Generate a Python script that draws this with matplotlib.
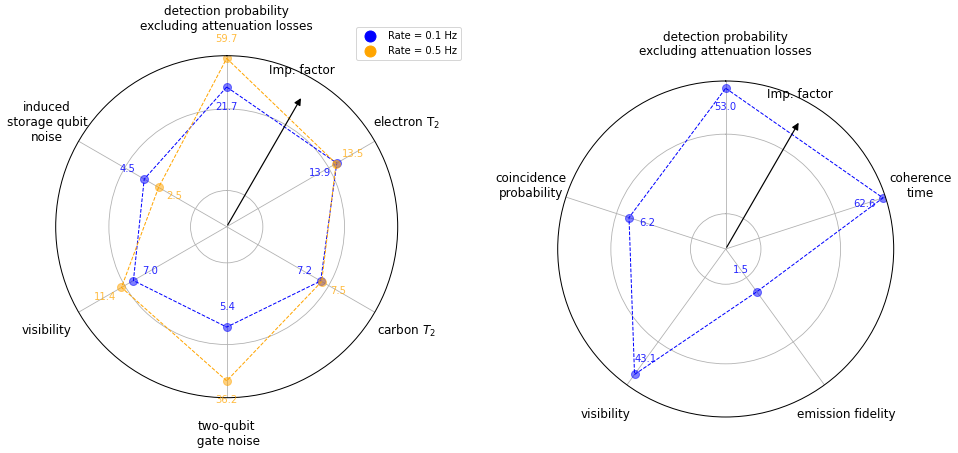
import numpy as np
import matplotlib
matplotlib.use("Agg")
import matplotlib.pyplot as plt
from matplotlib.lines import Line2D

# left chart: two rates
left_labels = ["detection probability\nexcluding attenuation losses", "electron T$_2$",
               "carbon $T_2$", "two-qubit\n gate noise", "visibility",
               "induced\nstorage qubit\nnoise"]
rate_01 = [21.7, 13.9, 7.2, 5.4, 7.0, 4.5]
rate_05 = [59.7, 13.5, 7.5, 36.2, 11.4, 2.5]
# radial factor for where each value label sits (>1 outside, <1 inside)
lab_01 = [0.5, 0.5, 0.5, 0.5, 0.5, 2.0]
lab_05 = [2.0, 2.0, 2.0, 2.0, 2.0, 0.67]

# right chart: single rate
right_labels = ["detection probability\nexcluding attenuation losses", "coherence\ntime",
                "emission fidelity", "visibility", "coincidence\nprobability"]
right_vals = [53.0, 62.6, 1.5, 43.1, 6.2]
lab_right = [0.5, 0.5, 0.5, 0.5, 0.5]

legend_names = ["Rate = 0.1 Hz", "Rate = 0.5 Hz"]

W, H = 958, 453
fig = plt.figure(figsize=(W / 72, H / 72), dpi=72)


def setup_radar(rect, labels, rmax):
    ax = fig.add_axes(rect, projection="polar")
    n = len(labels)
    ang = np.linspace(0, 2 * np.pi, n, endpoint=False)
    ax.set_theta_offset(np.pi / 2)
    ax.set_theta_direction(-1)
    ax.set_rscale("symlog")
    ax.set_rlim(0, rmax)
    ax.set_yticks([1, 10])
    ax.set_yticklabels([])
    ax.set_xticks(ang)
    ax.set_xticklabels(labels, fontsize=12)
    ax.tick_params(axis="x", pad=26)
    ax.grid(True, color="#b0b0b0", lw=0.8)
    ax.spines["polar"].set_linewidth(1.0)
    # importance arrow
    a = np.deg2rad(30)
    tip = (0.5 + 0.44 * np.sin(a), 0.5 + 0.44 * np.cos(a))
    ax.annotate("", xy=tip, xytext=(0.5, 0.5), xycoords="axes fraction",
                arrowprops=dict(arrowstyle="-|>", color="black", lw=1.2, mutation_scale=14))
    ax.annotate("Imp. factor", xy=tip, xycoords="axes fraction", xytext=(0, 26),
                textcoords="offset points", ha="center", va="center", fontsize=12)
    return ax, ang


def draw_series(ax, ang, vals, factors, color, txt_alpha):
    a = np.append(ang, ang[0])
    v = np.append(vals, vals[0])
    ax.plot(a, v, "--", color=color, lw=1.0)
    ax.plot(ang, vals, "o", color=color, alpha=0.5, markersize=8)
    for t, val, f in zip(ang, vals, factors):
        ax.text(t, val * f, f"{val:.1f}", color=color, alpha=txt_alpha,
                ha="center", va="center", fontsize=10)


axL, angL = setup_radar([55.7 / W, 55.3 / H, 342 / W, 342 / H], left_labels,
                        1.1 * max(max(rate_01), max(rate_05)))
draw_series(axL, angL, rate_01, lab_01, "blue", 0.85)
draw_series(axL, angL, rate_05, lab_05, "orange", 0.75)

axR, angR = setup_radar([557.7 / W, 36 / H, 336 / W, 336 / H], right_labels,
                        1.1 * max(right_vals))
draw_series(axR, angR, right_vals, lab_right, "blue", 0.85)

handles = [Line2D([], [], marker="o", ls="none", color="blue", markersize=11),
           Line2D([], [], marker="o", ls="none", color="orange", markersize=11)]
fig.legend(handles, legend_names, loc="upper right", bbox_to_anchor=(466 / W, 1 - 22 / H),
           fontsize=10)

fig.savefig("out.png", dpi=72)
